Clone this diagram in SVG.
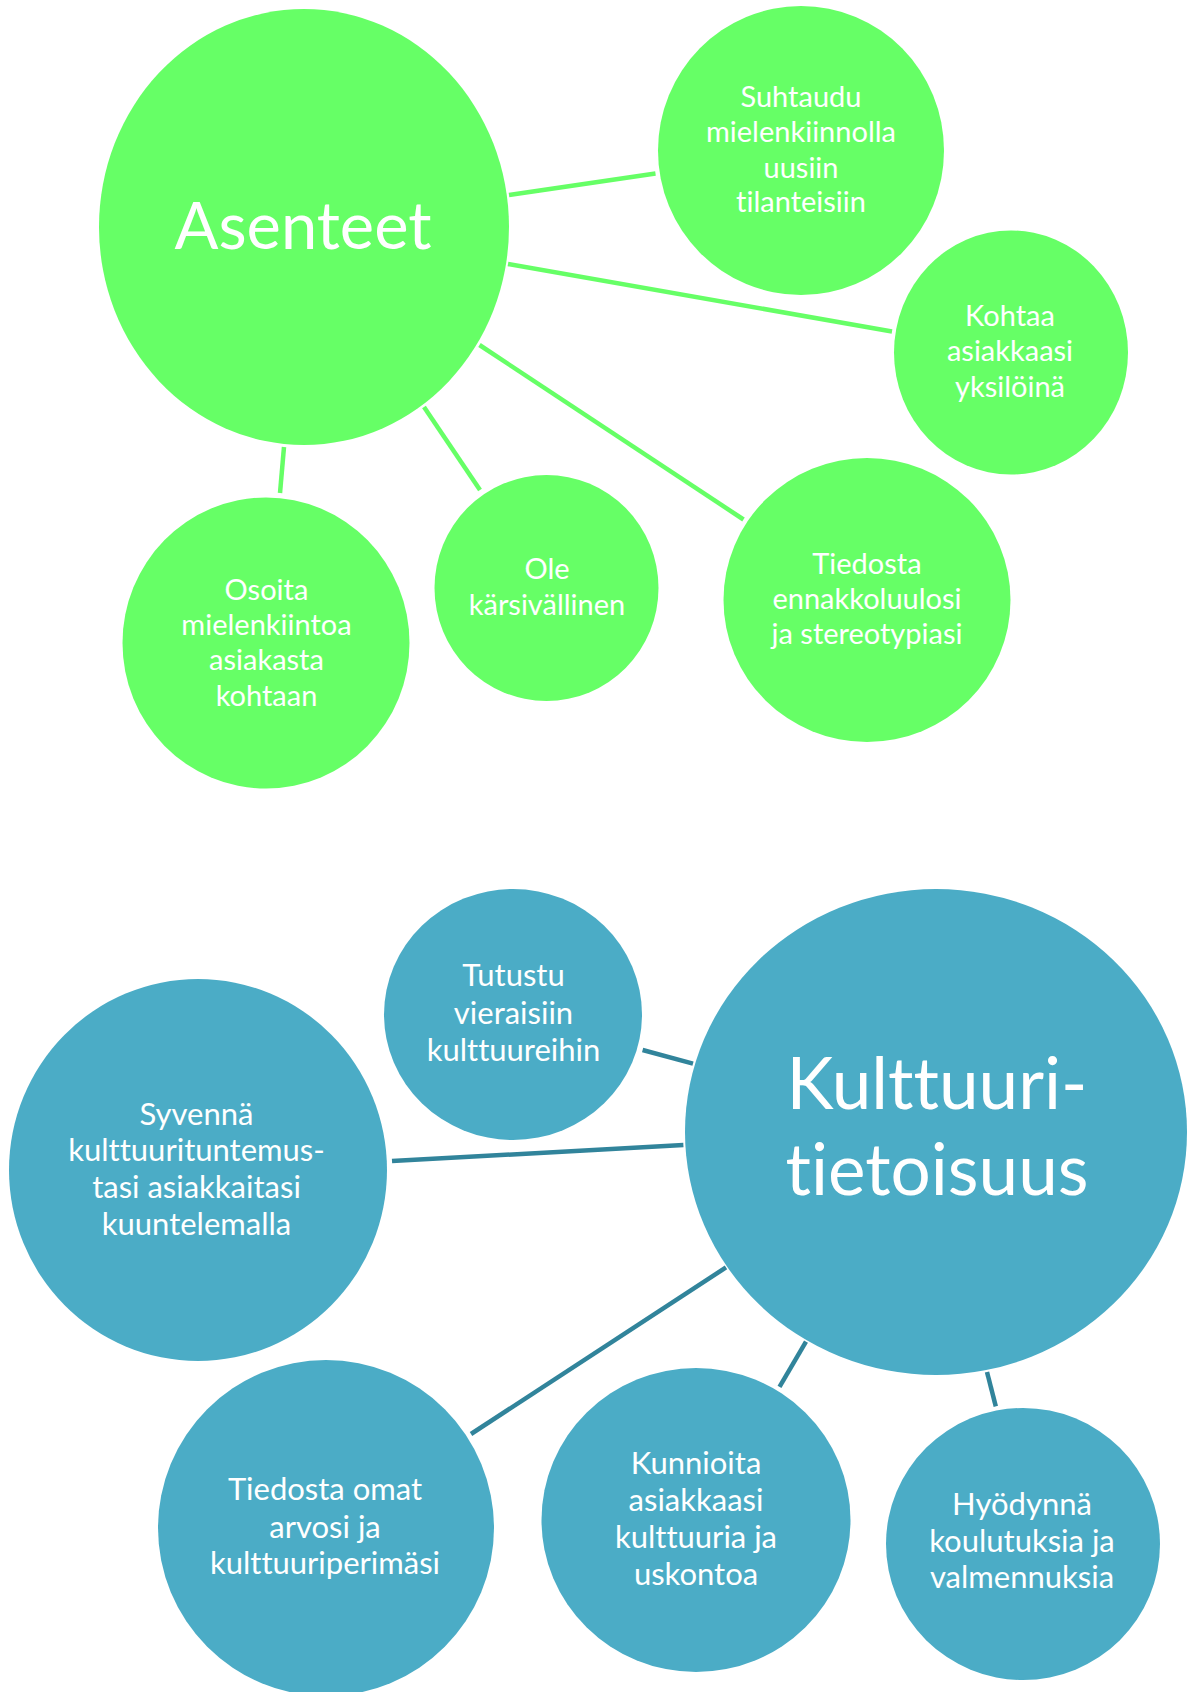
<svg xmlns="http://www.w3.org/2000/svg" width="1188" height="1692" viewBox="0 0 1188 1692">
<style>
.g{fill:#66FF66}
.b{fill:#4BACC6}
.gl{stroke:#66FF66;stroke-width:4.5;fill:none}
.bl{stroke:#31849B;stroke-width:4.5;fill:none}
text{font-family:Lato,"Open Sans","Liberation Sans",sans-serif;fill:#FFFFFF;text-anchor:middle;font-variant-ligatures:none;font-feature-settings:"liga" 0,"clig" 0}
.s{font-size:29px}
.s2{font-size:31px}
.big{font-size:65px}
.big2{font-size:71px}
</style>
<rect width="1188" height="1692" fill="#FFFFFF"/>
<g id="connectors">
<line class="gl" x1="509" y1="195" x2="655.5" y2="173.5"/>
<line class="gl" x1="508" y1="264" x2="892" y2="331.5"/>
<line class="gl" x1="479.5" y1="345" x2="743.5" y2="519.5"/>
<line class="gl" x1="424" y1="407" x2="480" y2="490"/>
<line class="gl" x1="284" y1="447" x2="280" y2="493"/>
<line class="bl" x1="642.6" y1="1050" x2="693" y2="1063.7"/>
<line class="bl" x1="392" y1="1161" x2="683.4" y2="1145"/>
<line class="bl" x1="471" y1="1434" x2="726" y2="1267.4"/>
<line class="bl" x1="779.5" y1="1386.8" x2="806" y2="1341.7"/>
<line class="bl" x1="987" y1="1372" x2="995.8" y2="1406.4"/>
</g>
<g id="asenteet">
<ellipse class="g" cx="304" cy="227" rx="205" ry="218"/>
<text class="big" x="303" y="249">Asenteet</text>
</g>
<g id="suhtaudu">
<ellipse class="g" cx="801" cy="150.5" rx="143" ry="144.5"/>
<text class="s" x="801" y="107">Suhtaudu</text>
<text class="s" x="801" y="142">mielenkiinnolla</text>
<text class="s" x="801" y="177.5">uusiin</text>
<text class="s" x="801" y="212">tilanteisiin</text>
</g>
<g id="kohtaa">
<ellipse class="g" cx="1011" cy="352.5" rx="117" ry="122"/>
<text class="s" x="1010" y="325.5">Kohtaa</text>
<text class="s" x="1010" y="361">asiakkaasi</text>
<text class="s" x="1010" y="397">yksilöinä</text>
</g>
<g id="tiedosta-ennakko">
<ellipse class="g" cx="867" cy="600" rx="143.5" ry="142"/>
<text class="s" x="867" y="574">Tiedosta</text>
<text class="s" x="867" y="609">ennakkoluulosi</text>
<text class="s" x="867" y="644">ja stereotypiasi</text>
</g>
<g id="ole">
<ellipse class="g" cx="546.5" cy="588" rx="112" ry="113"/>
<text class="s" x="547" y="579">Ole</text>
<text class="s" x="547" y="615">kärsivällinen</text>
</g>
<g id="osoita">
<ellipse class="g" cx="266" cy="643" rx="143.5" ry="145.5"/>
<text class="s" x="266.5" y="599.5">Osoita</text>
<text class="s" x="266.5" y="635">mielenkiintoa</text>
<text class="s" x="266.5" y="670">asiakasta</text>
<text class="s" x="266.5" y="705.5">kohtaan</text>
</g>
<g id="kulttuuritietoisuus">
<ellipse class="b" cx="936" cy="1132" rx="251" ry="243"/>
<text class="big2" x="937" y="1109">Kulttuuri-</text>
<text class="big2" x="937" y="1195">tietoisuus</text>
</g>
<g id="tutustu">
<ellipse class="b" cx="513" cy="1014.5" rx="129" ry="125.5"/>
<text class="s2" x="513.5" y="986">Tutustu</text>
<text class="s2" x="513.5" y="1023.5">vieraisiin</text>
<text class="s2" x="513.5" y="1060.5">kulttuureihin</text>
</g>
<g id="syvenna">
<ellipse class="b" cx="198" cy="1170" rx="189" ry="191"/>
<text class="s2" x="196.5" y="1125">Syvennä</text>
<text class="s2" x="196.5" y="1161">kulttuurituntemus-</text>
<text class="s2" x="196.5" y="1198">tasi asiakkaitasi</text>
<text class="s2" x="196.5" y="1235">kuuntelemalla</text>
</g>
<g id="tiedosta-omat">
<ellipse class="b" cx="326" cy="1528" rx="168" ry="168"/>
<text class="s2" x="325" y="1500">Tiedosta omat</text>
<text class="s2" x="325" y="1537.5">arvosi ja</text>
<text class="s2" x="325" y="1573.5">kulttuuriperimäsi</text>
</g>
<g id="kunnioita">
<ellipse class="b" cx="696" cy="1520" rx="154.5" ry="152"/>
<text class="s2" x="696" y="1474">Kunnioita</text>
<text class="s2" x="696" y="1511">asiakkaasi</text>
<text class="s2" x="696" y="1548">kulttuuria ja</text>
<text class="s2" x="696" y="1584.5">uskontoa</text>
</g>
<g id="hyodynna">
<ellipse class="b" cx="1023" cy="1544" rx="137" ry="136"/>
<text class="s2" x="1022" y="1515">Hyödynnä</text>
<text class="s2" x="1022" y="1552">koulutuksia ja</text>
<text class="s2" x="1022" y="1588">valmennuksia</text>
</g>
</svg>
